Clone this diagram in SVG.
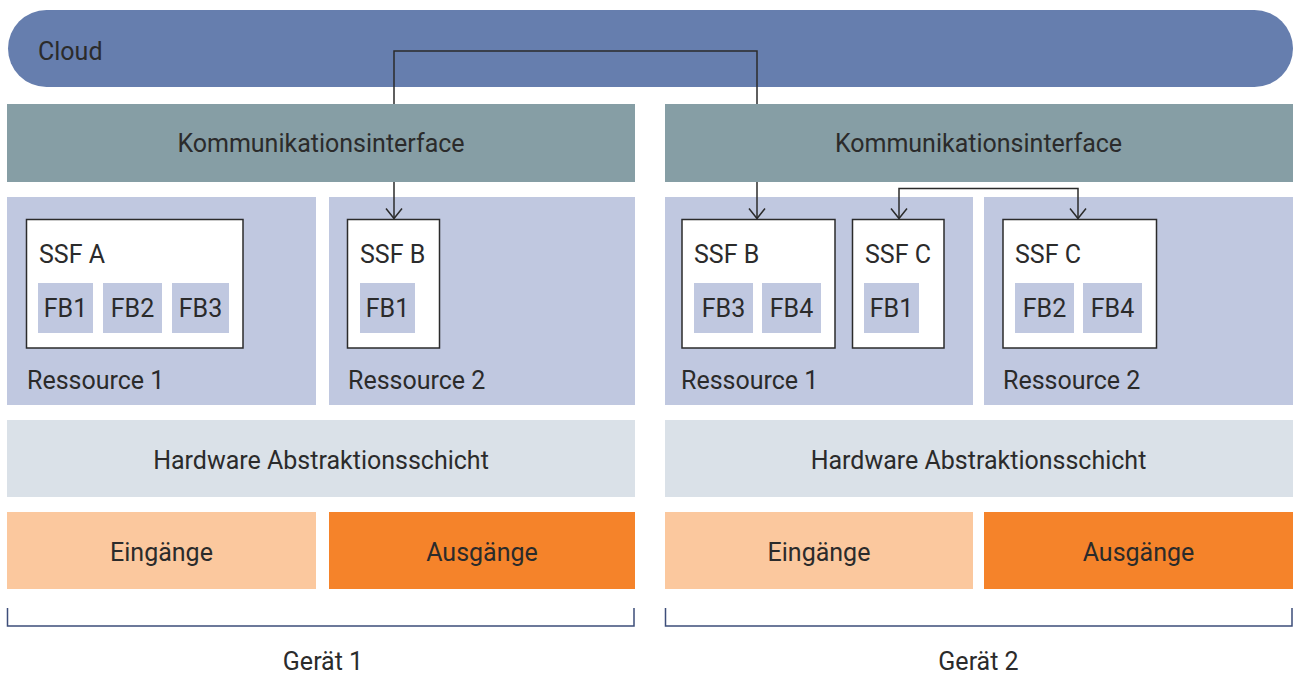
<svg xmlns="http://www.w3.org/2000/svg" width="1293" height="675" viewBox="0 0 1293 675">
  <defs>
    <marker id="arrow" markerUnits="userSpaceOnUse" markerWidth="14" markerHeight="20" viewBox="-12 -10 14 20" refX="0" refY="0" orient="auto-start-reverse" overflow="visible">
      <path d="M-10,-8 L0,0 L-10,8" fill="none" stroke="#2b2b2b" stroke-width="1.5"/>
    </marker>
    <style>
      text { font-family: Roboto, "Liberation Sans", sans-serif; font-size: 25px; fill: #2b2b2b; }
      .mid { text-anchor: middle; }
      .cloud { fill: #667eae; }
      .comm { fill: #869ea5; }
      .res { fill: #c0c8e0; }
      .hal { fill: #dae1e8; }
      .in { fill: #fbc89e; }
      .out { fill: #f5832a; }
      .ssf { fill: #ffffff; stroke: #2b2b2b; stroke-width: 1.5; }
      .fb { fill: #c0c8e0; }
      .link { fill: none; stroke: #2b2b2b; stroke-width: 1.5; }
      .bracket { fill: none; stroke: #3d4e7a; stroke-width: 1.5; }
    </style>
  </defs>

  <!-- Cloud -->
  <g id="cloud">
    <rect class="cloud" x="8" y="10" width="1285" height="77" rx="38.5"/>
    <text x="38" y="60">Cloud</text>
  </g>

  <!-- Device 1 -->
  <g id="g1-comm">
    <rect class="comm" x="7" y="104" width="628" height="78"/>
    <text class="mid" x="321" y="152">Kommunikationsinterface</text>
  </g>
  <g id="g1-res1">
    <rect class="res" x="7" y="197" width="309" height="208"/>
    <text x="27" y="389">Ressource 1</text>
  </g>
  <g id="g1-ssfA">
    <rect class="ssf" x="26.5" y="219.5" width="216.5" height="128.5"/>
    <text x="39" y="263">SSF A</text>
    <rect class="fb" x="38" y="283" width="55" height="50"/>
    <text class="mid" x="65.5" y="317">FB1</text>
    <rect class="fb" x="103" y="283" width="59" height="50"/>
    <text class="mid" x="132.5" y="317">FB2</text>
    <rect class="fb" x="172" y="283" width="57" height="50"/>
    <text class="mid" x="200.5" y="317">FB3</text>
  </g>
  <g id="g1-res2">
    <rect class="res" x="329" y="197" width="306" height="208"/>
    <text x="348" y="389">Ressource 2</text>
  </g>
  <g id="g1-ssfB">
    <rect class="ssf" x="347.5" y="219.5" width="92" height="128.5"/>
    <text x="360" y="263">SSF B</text>
    <rect class="fb" x="360" y="283" width="55" height="50"/>
    <text class="mid" x="387.5" y="317">FB1</text>
  </g>
  <g id="g1-hal">
    <rect class="hal" x="7" y="420" width="628" height="77"/>
    <text class="mid" x="321" y="469">Hardware Abstraktionsschicht</text>
  </g>
  <g id="g1-in">
    <rect class="in" x="7" y="512" width="309" height="77"/>
    <text class="mid" x="161.5" y="561">Eingänge</text>
  </g>
  <g id="g1-out">
    <rect class="out" x="329" y="512" width="306" height="77"/>
    <text class="mid" x="482" y="561">Ausgänge</text>
  </g>
  <g id="g1-label">
    <path class="bracket" d="M7.5,608 V626 H634 V608"/>
    <text class="mid" x="323" y="670">Gerät 1</text>
  </g>

  <!-- Device 2 -->
  <g id="g2-comm">
    <rect class="comm" x="665" y="104" width="628" height="78"/>
    <text class="mid" x="978.5" y="152">Kommunikationsinterface</text>
  </g>
  <g id="g2-res1">
    <rect class="res" x="665" y="197" width="308" height="208"/>
    <text x="681" y="389">Ressource 1</text>
  </g>
  <g id="g2-ssfB">
    <rect class="ssf" x="682" y="219.5" width="153" height="128.5"/>
    <text x="694" y="263">SSF B</text>
    <rect class="fb" x="694" y="283" width="59" height="50"/>
    <text class="mid" x="723.5" y="317">FB3</text>
    <rect class="fb" x="762" y="283" width="59" height="50"/>
    <text class="mid" x="791.5" y="317">FB4</text>
  </g>
  <g id="g2-ssfC1">
    <rect class="ssf" x="852.5" y="219.5" width="91.5" height="128.5"/>
    <text x="865" y="263">SSF C</text>
    <rect class="fb" x="864" y="283" width="55" height="50"/>
    <text class="mid" x="891.5" y="317">FB1</text>
  </g>
  <g id="g2-res2">
    <rect class="res" x="984" y="197" width="309" height="208"/>
    <text x="1003" y="389">Ressource 2</text>
  </g>
  <g id="g2-ssfC2">
    <rect class="ssf" x="1003" y="219.5" width="153.5" height="128.5"/>
    <text x="1015" y="263">SSF C</text>
    <rect class="fb" x="1015" y="283" width="59" height="50"/>
    <text class="mid" x="1044.5" y="317">FB2</text>
    <rect class="fb" x="1083" y="283" width="59" height="50"/>
    <text class="mid" x="1112.5" y="317">FB4</text>
  </g>
  <g id="g2-hal">
    <rect class="hal" x="665" y="420" width="628" height="77"/>
    <text class="mid" x="978.5" y="469">Hardware Abstraktionsschicht</text>
  </g>
  <g id="g2-in">
    <rect class="in" x="665" y="512" width="308" height="77"/>
    <text class="mid" x="819" y="561">Eingänge</text>
  </g>
  <g id="g2-out">
    <rect class="out" x="984" y="512" width="309" height="77"/>
    <text class="mid" x="1138.5" y="561">Ausgänge</text>
  </g>
  <g id="g2-label">
    <path class="bracket" d="M665.5,608 V626 H1292 V608"/>
    <text class="mid" x="978.5" y="670">Gerät 2</text>
  </g>

  <!-- Connectors -->
  <g id="connectors">
    <path class="link" d="M394,104 V51 H757 V104"/>
    <path class="link" d="M394,182 V218.5" marker-end="url(#arrow)"/>
    <path class="link" d="M757,182 V218.5" marker-end="url(#arrow)"/>
    <path class="link" d="M899,218.5 V188.5 H1078 V218.5" marker-start="url(#arrow)" marker-end="url(#arrow)"/>
  </g>
</svg>
